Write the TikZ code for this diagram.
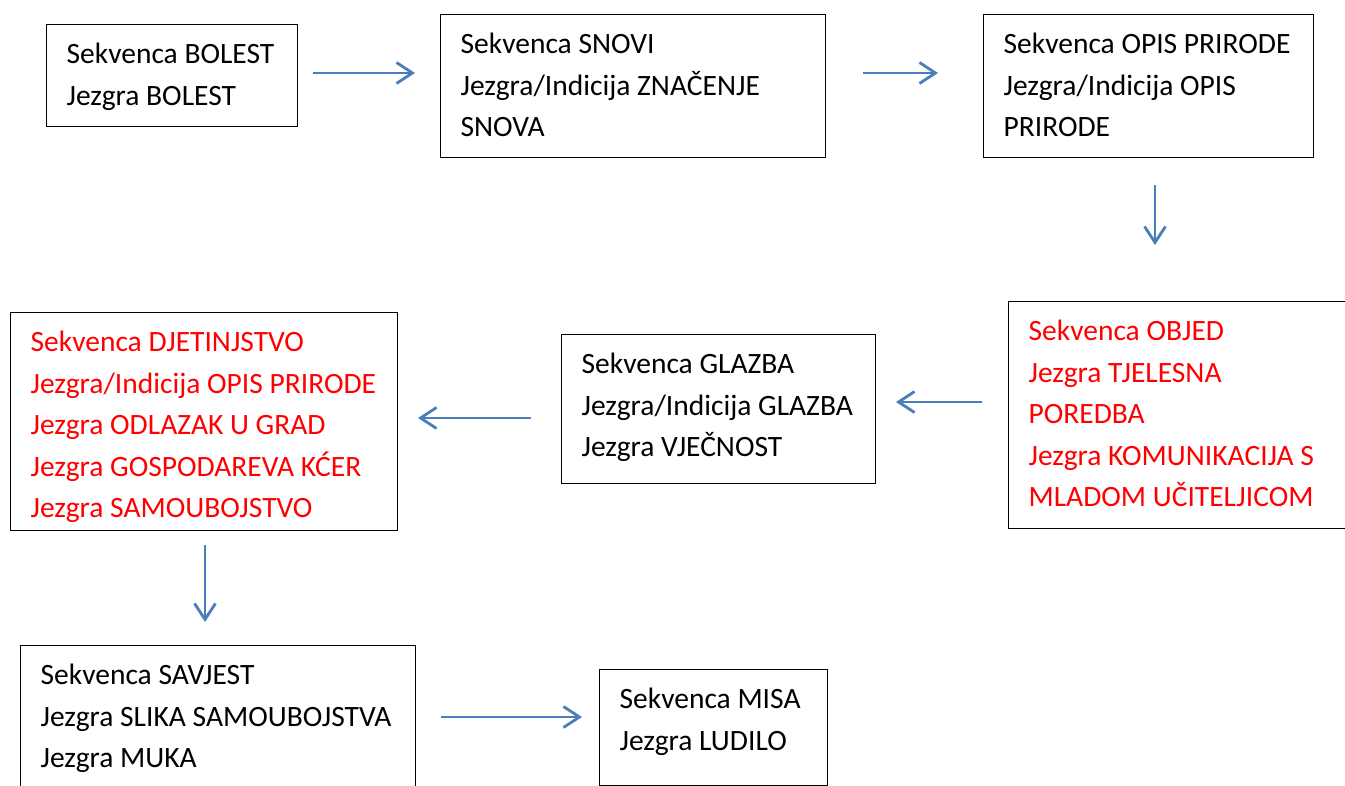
\documentclass[tikz,border=0pt]{standalone}
\usepackage{fontspec}
\setmainfont{Carlito}
\usetikzlibrary{arrows.meta}
\definecolor{arrowblue}{HTML}{4A7EBB}
\newcommand{\bxt}[3]{\parbox[t][\dimexpr#2pt-20pt\relax][t]{\dimexpr#1pt-40pt\relax}{\raggedright\strut #3}}
\tikzset{
  seqbox/.style={draw=black, line width=1.2pt, anchor=north west, inner xsep=20pt, inner ysep=10pt,
    font={\fontsize{29.5}{41.5}\selectfont}},
  redtext/.style={text=red},
  flow/.style={draw=arrowblue, line width=2.6pt, -{Straight Barb[length=16pt,width=21pt,line width=2.8pt]}}
}
\begin{document}
\begin{tikzpicture}[x=1pt,y=-1pt]
\clip (0,0) rectangle (1345,786);
\fill[white] (0,0) rectangle (1345,786);
\node[seqbox] (b1) at (46,24) {\bxt{251}{102}{Sekvenca BOLEST\\Jezgra BOLEST}};
\node[seqbox] (b2) at (440,14) {\bxt{385}{143}{Sekvenca SNOVI\\Jezgra/Indicija ZNAČENJE\\SNOVA}};
\node[seqbox] (b3) at (983,14) {\bxt{330}{143}{Sekvenca OPIS PRIRODE\\Jezgra/Indicija OPIS\\PRIRODE}};
\node[seqbox,redtext] (b4) at (1008,301) {\bxt{352}{227}{Sekvenca OBJED\\Jezgra TJELESNA\\POREDBA\\Jezgra KOMUNIKACIJA S\\MLADOM UČITELJICOM}};
\node[seqbox] (b5) at (561,334) {\bxt{314}{149}{Sekvenca GLAZBA\\Jezgra/Indicija GLAZBA\\Jezgra VJEČNOST}};
\node[seqbox,redtext] (b6) at (10,312) {\bxt{387}{218}{Sekvenca DJETINJSTVO\\Jezgra/Indicija OPIS PRIRODE\\Jezgra ODLAZAK U GRAD\\Jezgra GOSPODAREVA KĆER\\Jezgra SAMOUBOJSTVO}};
\node[seqbox] (b7) at (20,645) {\bxt{395}{160}{Sekvenca SAVJEST\\Jezgra SLIKA SAMOUBOJSTVA\\Jezgra MUKA}};
\node[seqbox] (b8) at (599,669) {\bxt{228}{116}{Sekvenca MISA\\Jezgra LUDILO}};
% arrow end points
\coordinate (a1s) at (313,73);  \coordinate (a1e) at (415,73);
\coordinate (a2s) at (863,73);  \coordinate (a2e) at (938,73);
\coordinate (a3s) at (1155,185); \coordinate (a3e) at (1155,245);
\coordinate (a4s) at (982,402); \coordinate (a4e) at (896,402);
\coordinate (a5s) at (531,418); \coordinate (a5e) at (418,418);
\coordinate (a6s) at (205,545); \coordinate (a6e) at (205,622);
\coordinate (a7s) at (441,717); \coordinate (a7e) at (582,717);
\draw[flow] (a1s) -- (a1e);
\draw[flow] (a2s) -- (a2e);
\draw[flow] (a3s) -- (a3e);
\draw[flow] (a4s) -- (a4e);
\draw[flow] (a5s) -- (a5e);
\draw[flow] (a6s) -- (a6e);
\draw[flow] (a7s) -- (a7e);
\end{tikzpicture}
\end{document}
